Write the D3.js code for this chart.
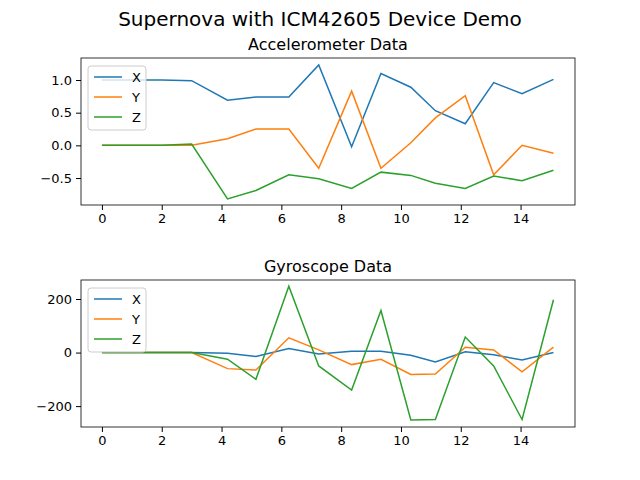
<!DOCTYPE html>
<html><head><meta charset="UTF-8">
<script src="https://d3js.org/d3.v7.min.js"></script>
<style>body{margin:0}text{font-family:"DejaVu Sans",sans-serif}</style>
</head><body><div id="main"></div>
<script>
var t = [0,1,2,3,4.2,5.15,6.25,7.25,8.35,9.33,10.33,11.15,12.15,13.1,14.05,15.1]
var accX = [1.0,1.0,1.0,0.99,0.69,0.74,0.74,1.23,-0.02,1.10,0.89,0.53,0.33,0.96,0.79,1.01]
var accY = [0,0,0,0,0.1,0.25,0.25,-0.35,0.83,-0.35,0.04,0.42,0.76,-0.45,0.0,-0.12]
var accZ = [0,0,0,0.02,-0.82,-0.69,-0.45,-0.51,-0.66,-0.41,-0.46,-0.58,-0.66,-0.47,-0.54,-0.38]
var gyrX = [0,0,0,0,-3,-15,15,-5,5,5,-10,-35,3,-8,-28,0]
var gyrY = [0,0,0,0,-60,-65,55,10,-45,-25,-82,-80,20,10,-72,20]
var gyrZ = [0,0,0,0,-25,-100,248,-50,-140,157,-252,-250,58,-50,-250,197]
var names = ['X','Y','Z']
var colors = ['#1f77b4','#ff7f0e','#2ca02c']

var svg = d3.select('#main').append('svg').attr('width',640).attr('height',480)
svg.append('rect').attr('width',640).attr('height',480).attr('fill','white')
svg.append('text').attr('x',320).attr('y',26).attr('text-anchor','middle')
    .attr('font-size','20px').text('Supernova with ICM42605 Device Demo')

function panel(top, title, series, ydom, yticks, fmt){
    var left=81, right=575, bottom=top+147
    var x = d3.scaleLinear().domain([-0.7,15.82]).range([left,right])
    var y = d3.scaleLinear().domain(ydom).range([bottom,top])
    var g = svg.append('g')
    g.append('text').attr('x',(left+right)/2).attr('y',top-8).attr('text-anchor','middle')
        .attr('font-size','16px').text(title)
    series.forEach(function(s,i){
        var line = d3.line().x((d,j)=>x(t[j])).y(d=>y(d))
        g.append('path').attr('d',line(s)).attr('fill','none')
            .attr('stroke',colors[i]).attr('stroke-width',1.5)
    })
    g.append('g').attr('transform',`translate(0,${bottom})`)
        .call(d3.axisBottom(x).tickValues([0,2,4,6,8,10,12,14]).tickSize(5).tickPadding(4))
    g.append('g').attr('transform',`translate(${left},0)`)
        .call(d3.axisLeft(y).tickValues(yticks).tickFormat(fmt).tickSize(5).tickPadding(4))
    g.selectAll('.tick text').attr('font-size','13px').attr('font-family','DejaVu Sans').attr('fill','#000')
    g.selectAll('.domain').remove()
    g.append('rect').attr('x',left).attr('y',top).attr('width',right-left).attr('height',bottom-top)
        .attr('fill','none').attr('stroke','black').attr('stroke-width',0.8)
    var lg = g.append('g').attr('transform',`translate(${left+7},${top+8})`)
    lg.append('rect').attr('width',58).attr('height',64).attr('rx',3)
        .attr('fill','white').attr('fill-opacity',0.8).attr('stroke','#ccc')
    names.forEach(function(n,i){
        var yy = 11+i*20
        lg.append('line').attr('x1',6).attr('x2',34).attr('y1',yy).attr('y2',yy)
            .attr('stroke',colors[i]).attr('stroke-width',1.5)
        lg.append('text').attr('x',44).attr('y',yy+5).attr('font-size','13px').text(n)
    })
}
panel(58,'Accelerometer Data',[accX,accY,accZ],[-0.913,1.337],[-0.5,0,0.5,1.0],d3.format('.1f'))
panel(280,'Gyroscope Data',[gyrX,gyrY,gyrZ],[-278,271],[-200,0,200],d=>d<0?'\u2212'+(-d):d)
svg.selectAll('text').filter(function(){return this.textContent.startsWith('-')})
    .text(function(){return '\u2212'+this.textContent.slice(1)})
</script></body></html>
